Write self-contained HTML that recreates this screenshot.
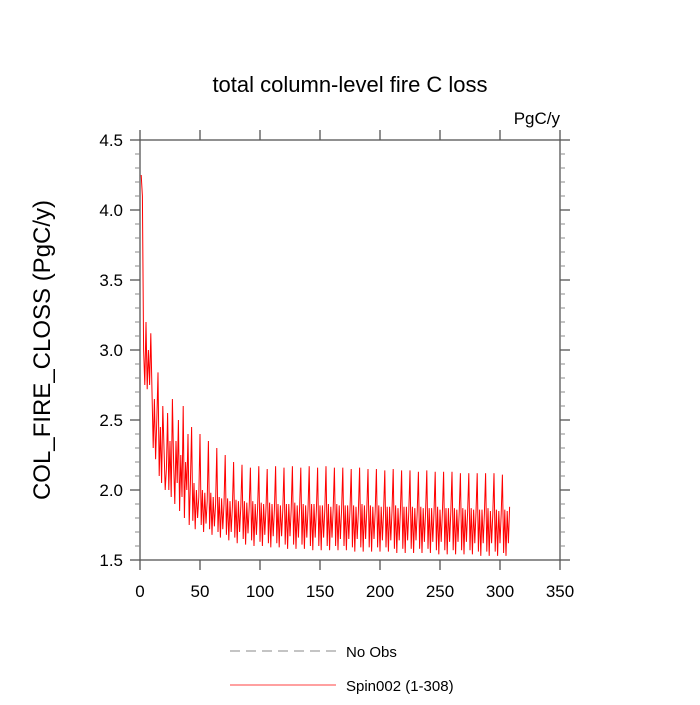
<!DOCTYPE html>
<html><head><meta charset="utf-8"><style>
body{margin:0;background:#fff;}
svg text{font-family:"Liberation Sans",sans-serif;fill:#000;}
</style></head><body>
<svg id="chart" width="700" height="700" xmlns="http://www.w3.org/2000/svg">
<text x="350" y="92" font-size="22" text-anchor="middle">total column-level fire C loss</text>
<text x="560" y="124" font-size="17" text-anchor="end">PgC/y</text>
<text x="0" y="0" font-size="24" text-anchor="middle" transform="translate(50,350) rotate(-90)">COL_FIRE_CLOSS  (PgC/y)</text>
<g id="axes"></g>
<g id="series"></g>
<line x1="230" y1="651" x2="336" y2="651" stroke="#888" stroke-width="1" stroke-dasharray="10,6"/>
<text x="346" y="657" font-size="15">No Obs</text>
<line x1="230" y1="685" x2="336" y2="685" stroke="#f00" stroke-width="0.8"/>
<text x="346" y="691" font-size="15">Spin002 (1-308)</text>
</svg>
<script>
const xTicks=[0,50,100,150,200,250,300,350];
const yTicks=[1.5,2.0,2.5,3.0,3.5,4.0,4.5];
const yTickLabels=["1.5","2.0","2.5","3.0","3.5","4.0","4.5"];
const fireCloss=[
4.25,4.10,3.00,2.75,3.20,2.72,3.00,
2.75,3.12,2.70,2.30,2.65,2.22,2.50,
2.84,2.10,2.45,2.05,2.60,2.30,2.00,
2.15,2.55,2.00,2.35,1.95,2.65,2.20,
1.90,2.35,2.05,2.50,1.85,2.25,1.95,
2.60,1.80,2.20,2.00,2.40,1.75,2.05,
2.45,1.78,2.05,1.72,2.00,1.80,1.95,
2.40,1.75,2.00,1.70,1.98,1.76,1.92,
2.35,1.72,1.98,1.68,1.95,1.74,1.90,
2.30,1.70,1.95,1.66,1.94,1.72,1.90,
2.25,1.68,1.94,1.64,1.92,1.70,1.88,
2.20,1.66,1.93,1.62,1.92,1.70,1.88,
2.18,1.65,1.92,1.61,1.91,1.69,1.88,
2.16,1.64,1.92,1.60,1.90,1.68,1.87,
2.17,1.63,1.91,1.60,1.90,1.68,1.87,
2.15,1.62,1.91,1.59,1.90,1.67,1.86,
2.17,1.62,1.90,1.59,1.89,1.67,1.86,
2.16,1.61,1.90,1.58,1.90,1.67,1.86,
2.17,1.61,1.91,1.58,1.89,1.66,1.87,
2.16,1.61,1.90,1.58,1.89,1.66,1.86,
2.17,1.60,1.90,1.57,1.90,1.66,1.86,
2.16,1.60,1.89,1.57,1.89,1.66,1.86,
2.17,1.60,1.90,1.57,1.88,1.66,1.87,
2.16,1.60,1.90,1.57,1.89,1.65,1.86,
2.16,1.60,1.89,1.57,1.89,1.65,1.86,
2.15,1.59,1.89,1.56,1.88,1.65,1.85,
2.16,1.59,1.90,1.56,1.89,1.65,1.86,
2.15,1.59,1.89,1.56,1.88,1.65,1.85,
2.15,1.59,1.89,1.56,1.88,1.64,1.85,
2.14,1.59,1.88,1.56,1.88,1.64,1.85,
2.15,1.58,1.89,1.55,1.87,1.64,1.85,
2.14,1.58,1.88,1.55,1.88,1.64,1.85,
2.14,1.58,1.88,1.55,1.87,1.64,1.84,
2.13,1.58,1.88,1.55,1.87,1.63,1.85,
2.14,1.58,1.87,1.55,1.87,1.63,1.84,
2.13,1.57,1.88,1.54,1.86,1.63,1.84,
2.13,1.57,1.87,1.54,1.87,1.63,1.84,
2.13,1.57,1.87,1.54,1.86,1.63,1.84,
2.12,1.57,1.87,1.54,1.86,1.63,1.84,
2.12,1.57,1.87,1.54,1.86,1.62,1.84,
2.12,1.56,1.86,1.53,1.86,1.62,1.83,
2.12,1.56,1.87,1.53,1.85,1.62,1.83,
2.12,1.56,1.86,1.53,1.85,1.62,1.83,
2.11,1.55,1.86,1.53,1.85,1.62,1.88
];
const L=140,R=560,T=140,B=560;
function xs(v){return L+(v-0)/(350-0)*(R-L);}
function ys(v){return B-(v-1.5)/(4.5-1.5)*(B-T);}
const NS="http://www.w3.org/2000/svg";
const ax=document.getElementById('axes');
function mk(tag,attrs,parent){const e=document.createElementNS(NS,tag);for(const k in attrs)e.setAttribute(k,attrs[k]);parent.appendChild(e);return e;}
const frame=mk('rect',{x:L,y:T,width:R-L,height:B-T,fill:'none',stroke:'#555','stroke-width':1.3},ax);


xTicks.forEach(v=>{
  const x=xs(v);
  const t1=mk('line',{x1:x,y1:B,x2:x,y2:B+10,stroke:'#555','stroke-width':1.3},ax);
  
  
  const t2=mk('line',{x1:x,y1:T,x2:x,y2:T-10,stroke:'#555','stroke-width':1.3},ax);
  
  
  const lb=mk('text',{x:x,y:B+37,'font-size':17,'text-anchor':'middle'},ax);
  lb.textContent=String(v);
  
  
});
for(let v=1.5;v<=4.501;v+=0.1){
  const y=ys(v);
  const m1=mk('line',{x1:L,y1:y,x2:L-5,y2:y,stroke:'#888','stroke-width':1},ax);
  
  
  const m2=mk('line',{x1:R,y1:y,x2:R+5,y2:y,stroke:'#888','stroke-width':1},ax);
  
  
}
yTicks.forEach((v,i)=>{
  const y=ys(v);
  const t1=mk('line',{x1:L,y1:y,x2:L-10,y2:y,stroke:'#555','stroke-width':1.3},ax);
  
  
  const t2=mk('line',{x1:R,y1:y,x2:R+10,y2:y,stroke:'#555','stroke-width':1.3},ax);
  
  
  const lb=mk('text',{x:L-17,y:y+6,'font-size':17,'text-anchor':'end'},ax);
  lb.textContent=yTickLabels[i];
  
  
});
const pts=fireCloss.map((v,i)=>xs(i+1).toFixed(2)+','+ys(v).toFixed(2)).join(' ');
const line=mk('polyline',{points:pts,fill:'none',stroke:'#f00','stroke-width':1},document.getElementById('series'));


</script>
</body></html>
